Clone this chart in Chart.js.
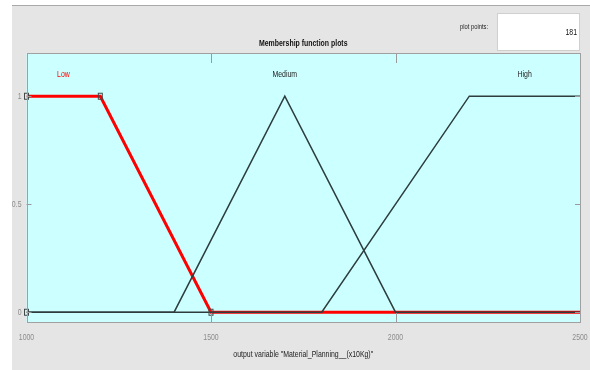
<!DOCTYPE html>
<html>
<head>
<meta charset="utf-8">
<script src="https://cdn.jsdelivr.net/npm/chart.js@4.4.1/dist/chart.umd.min.js"></script>
<style>
  html, body { margin: 0; padding: 0; background: #ffffff; }
  #wrap { position: relative; width: 590px; height: 370px; }
  canvas { display: block; }
</style>
</head>
<body>
<div id="wrap"><canvas id="mf" width="590" height="370"></canvas></div>
<script>
// Output variable range and tick values
const xRange = [1000, 2500];
const yRange = [-0.05, 1.2];
const xTicks = [1000, 1500, 2000, 2500];
const xTickLabels = ['1000', '1500', '2000', '2500'];
const yTicks = [0, 0.5, 1];
const yTickLabels = ['0', '0.5', '1'];

// Membership functions (breakpoints over the output range)
const lowX = [1000, 1200, 1500, 2500];
const lowY = [1, 1, 0, 0];
const mediumX = [1000, 1400, 1700, 2000, 2500];
const mediumY = [0, 0, 1, 0, 0];
const highX = [1000, 1800, 2200, 2500];
const highY = [0, 0, 1, 1];

// Parameter handles of the selected function (Low, trapmf [1000 1000 1200 1500])
const handleX = [1000, 1000, 1200, 1500];
const handleY = [0, 1, 1, 0];

// Function names and where they are written
const mfNames = ['Low', 'Medium', 'High'];
const mfLabelX = [1100, 1700, 2350];
const mfLabelY = 1.1;
const mfLabelColors = ['#ff0000', '#222222', '#222222'];

const plotPoints = '181';
const axisTitle = 'output variable "Material_Planning__(x10Kg)"';
const panelTitle = 'Membership function plots';

const FONT = "'Liberation Sans', Arial, sans-serif";
const NARROW = 0.77;   // Helvetica-Narrow-like horizontal squeeze
const toPts = (xs, ys) => xs.map((x, i) => ({ x: x, y: ys[i] }));

function narrowText(ctx, text, x, y, align, font, color) {
  ctx.save();
  ctx.font = font;
  ctx.fillStyle = color;
  ctx.textAlign = align;
  ctx.textBaseline = 'middle';
  ctx.translate(x, y);
  ctx.scale(NARROW, 1);
  ctx.fillText(text, 0, 0);
  ctx.restore();
}

// Small upright rectangle used for the parameter handles
const handleMark = document.createElement('canvas');
handleMark.width = 7; handleMark.height = 9;
(() => {
  const c = handleMark.getContext('2d');
  c.strokeStyle = '#404848';
  c.lineWidth = 1;
  c.strokeRect(1.5, 1.5, 4, 6);
})();

// Figure background, axes face, panel texts, tick labels and inward tick marks
const figurePlugin = {
  id: 'figure',
  beforeDraw(chart) {
    const { ctx, chartArea: a } = chart;
    ctx.save();
    ctx.fillStyle = '#ffffff';
    ctx.fillRect(0, 0, 590, 370);
    ctx.fillStyle = '#e5e5e5';
    ctx.fillRect(12, 5, 578, 365);
    ctx.fillStyle = '#a9a9a9';
    ctx.fillRect(12, 5, 578, 1);
    ctx.fillStyle = '#ccffff';
    ctx.fillRect(a.left, a.top, a.right - a.left, a.bottom - a.top);

    // plot points field
    ctx.fillStyle = '#ffffff';
    ctx.fillRect(497, 13, 82, 37);
    ctx.strokeStyle = '#cfcfcf';
    ctx.lineWidth = 1;
    ctx.strokeRect(497.5, 13.5, 82, 37);
    ctx.restore();

    narrowText(ctx, 'plot points:', 488, 27, 'right', '7.5px ' + FONT, '#222222');
    narrowText(ctx, plotPoints, 577, 33, 'right', '9px ' + FONT, '#111111');
    narrowText(ctx, panelTitle, (a.left + a.right) / 2, 44, 'center', 'bold 9px ' + FONT, '#111111');
  },
  afterDatasetsDraw(chart) {
    const { ctx, chartArea: a, scales } = chart;
    ctx.save();
    // inward ticks
    ctx.strokeStyle = '#9a9a9a';
    ctx.lineWidth = 1;
    ctx.beginPath();
    scales.x.ticks.forEach(t => {
      const px = Math.round(scales.x.getPixelForValue(t.value)) + 0.5;
      ctx.moveTo(px, a.bottom); ctx.lineTo(px, a.bottom - 10);
      ctx.moveTo(px, a.top); ctx.lineTo(px, a.top + 10);
    });
    scales.y.ticks.forEach(t => {
      const py = Math.round(scales.y.getPixelForValue(t.value)) + 0.5;
      ctx.moveTo(a.left, py); ctx.lineTo(a.left + 5, py);
      ctx.moveTo(a.right, py); ctx.lineTo(a.right - 5, py);
    });
    ctx.stroke();
    // axes box
    ctx.strokeStyle = '#a0a0a0';
    ctx.strokeRect(Math.round(a.left) + 0.5, Math.round(a.top) + 0.5,
                   Math.round(a.right - a.left) - 1, Math.round(a.bottom - a.top) - 1);
    ctx.restore();

    // tick labels
    scales.x.ticks.forEach(t => {
      narrowText(ctx, xTickLabels[xTicks.indexOf(t.value)], scales.x.getPixelForValue(t.value), a.bottom + 15,
                 'center', '9px ' + FONT, '#8c8c8c');
    });
    scales.y.ticks.forEach(t => {
      narrowText(ctx, yTickLabels[yTicks.indexOf(t.value)], a.left - 5, scales.y.getPixelForValue(t.value),
                 'right', '9px ' + FONT, '#8c8c8c');
    });
    narrowText(ctx, axisTitle, (a.left + a.right) / 2, a.bottom + 32, 'center', '9px ' + FONT, '#222222');

    // function names
    mfNames.forEach((name, i) => {
      narrowText(ctx, name, scales.x.getPixelForValue(mfLabelX[i]), scales.y.getPixelForValue(mfLabelY),
                 'center', '9px ' + FONT, mfLabelColors[i]);
    });
  }
};

const lineStyle = { pointRadius: 0, fill: false, tension: 0, borderJoinStyle: 'miter' };

new Chart(document.getElementById('mf'), {
  type: 'line',
  data: {
    datasets: [
      { label: 'handles', type: 'scatter', data: toPts(handleX, handleY),
        pointStyle: handleMark, pointRadius: 4, showLine: false, clip: false, order: 0 },
      { ...lineStyle, label: mfNames[2], data: toPts(highX, highY), borderColor: '#2e3d3d', borderWidth: 1.5, order: 1 },
      { ...lineStyle, label: mfNames[1], data: toPts(mediumX, mediumY), borderColor: '#2e3d3d', borderWidth: 1.5, order: 2 },
      { ...lineStyle, label: mfNames[0], data: toPts(lowX, lowY), borderColor: '#ff0000', borderWidth: 3, order: 3 }
    ]
  },
  options: {
    responsive: false,
    animation: false,
    events: [],
    layout: { padding: { left: 0, right: 10, top: 53, bottom: 0 } },
    plugins: { legend: { display: false }, tooltip: { enabled: false } },
    scales: {
      x: {
        type: 'linear', min: xRange[0], max: xRange[1],
        border: { display: false },
        grid: { display: false, drawTicks: false },
        ticks: { display: false },
        afterBuildTicks: s => { s.ticks = xTicks.map(v => ({ value: v })); },
        afterFit: s => { s.height = 47; s.paddingLeft = 0; s.paddingRight = 0; }
      },
      y: {
        type: 'linear', min: yRange[0], max: yRange[1],
        border: { display: false },
        grid: { display: false, drawTicks: false },
        ticks: { display: false },
        afterBuildTicks: s => { s.ticks = yTicks.map(v => ({ value: v })); },
        afterFit: s => { s.width = 26.5; s.paddingTop = 0; s.paddingBottom = 0; }
      }
    }
  },
  plugins: [figurePlugin]
});
</script>
</body>
</html>
